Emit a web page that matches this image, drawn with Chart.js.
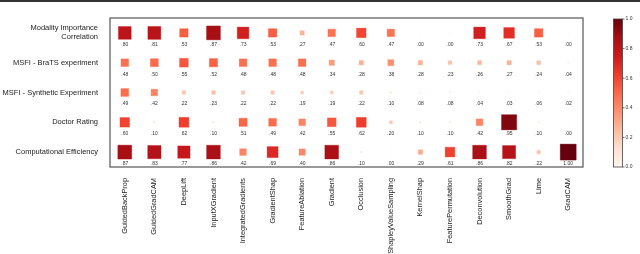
<!DOCTYPE html>
<html>
<head>
<meta charset="utf-8">
<script src="https://cdn.jsdelivr.net/npm/chart.js@4/dist/chart.umd.min.js"></script>
<style>
  html, body { margin: 0; padding: 0; background: #fff; }
  #wrap { position: relative; width: 640px; height: 254px; }
</style>
</head>
<body>
<div id="wrap"><canvas id="c" width="640" height="254"></canvas></div>
<script>
// ---- data ----
const methods = ["GuidedBackProp","GuidedGradCAM","DeepLift","InputXGradient","IntegratedGradients","GradientShap","FeatureAblation","Gradient","Occlusion","ShapleyValueSampling","KernelShap","FeaturePermutation","Deconvolution","SmoothGrad","Lime","GradCAM"];
const metrics = [["Modality Importance","Correlation"],"MSFI - BraTS experiment","MSFI - Synthetic Experiment","Doctor Rating","Computational Efficiency"];
const modalityImportance = [0.80,0.81,0.53,0.87,0.73,0.53,0.27,0.47,0.60,0.47,0.00,0.00,0.73,0.67,0.53,0.00];
const msfiBrats          = [0.48,0.50,0.55,0.52,0.48,0.48,0.48,0.34,0.28,0.38,0.28,0.23,0.26,0.27,0.24,0.04];
const msfiSynthetic      = [0.49,0.42,0.22,0.23,0.22,0.22,0.19,0.19,0.22,0.10,0.08,0.08,0.04,0.03,0.06,0.02];
const doctorRating       = [0.60,0.10,0.62,0.10,0.51,0.49,0.42,0.55,0.62,0.20,0.10,0.10,0.42,0.95,0.10,0.00];
const compEfficiency     = [0.87,0.83,0.77,0.86,0.42,0.69,0.40,0.86,0.10,0.00,0.29,0.61,0.86,0.82,0.22,1.00];
const colorbarTicks = [0.0,0.2,0.4,0.6,0.8,1.0];

const rows = [modalityImportance, msfiBrats, msfiSynthetic, doctorRating, compEfficiency];

// ---- matplotlib "Reds" colormap ----
const redsStops = ["#fff5f0","#fee0d2","#fcbba1","#fc9272","#fb6a4a","#ef3b2c","#cb181d","#a50f15","#67000d"];
function hex2rgb(h){return [parseInt(h.slice(1,3),16),parseInt(h.slice(3,5),16),parseInt(h.slice(5,7),16)];}
function reds(t, a){
  t = Math.max(0, Math.min(1, t));
  const n = redsStops.length - 1;
  const p = t * n, i = Math.min(Math.floor(p), n - 1), f = p - i;
  const c0 = hex2rgb(redsStops[i]), c1 = hex2rgb(redsStops[i+1]);
  const c = c0.map((v,k)=>Math.round(v + (c1[k]-v)*f));
  return a === undefined ? `rgb(${c[0]},${c[1]},${c[2]})` : `rgba(${c[0]},${c[1]},${c[2]},${a})`;
}

const points = [];
rows.forEach((arr, r) => arr.forEach((v, c) => points.push({x: c, y: r, v: v})));

const MAXSIDE = 16;
const FONT = "'Liberation Sans', Arial, sans-serif";
function fmt(v){ return v >= 1 ? v.toFixed(2) : v.toFixed(2).replace(/^0/, ""); }

const decor = {
  id: "decor",
  beforeDraw(chart){
    const ctx = chart.ctx;
    ctx.save();
    ctx.fillStyle = "#333";
    ctx.fillRect(0, 0, chart.width, 2);
    ctx.restore();
  },
  afterDatasetsDraw(chart){
    const ctx = chart.ctx, xs = chart.scales.x, ys = chart.scales.y;
    ctx.save();
    ctx.font = "5px " + FONT;
    ctx.fillStyle = "#333";
    ctx.textAlign = "center";
    ctx.textBaseline = "middle";
    points.forEach(p => {
      ctx.fillText(fmt(p.v), xs.getPixelForValue(p.x), ys.getPixelForValue(p.y) + 11.5);
    });
    ctx.restore();
  },
  afterDraw(chart){
    const ctx = chart.ctx, a = chart.chartArea;
    ctx.save();
    ctx.strokeStyle = "#555";
    ctx.lineWidth = 1.2;
    ctx.strokeRect(a.left, a.top, a.right - a.left, a.bottom - a.top);
    const x0 = a.right + 30.5, w = 9, top = a.top + 1, bot = a.bottom;
    const g = ctx.createLinearGradient(0, bot, 0, top);
    redsStops.forEach((c, i) => g.addColorStop(i / (redsStops.length - 1), c));
    ctx.fillStyle = g;
    ctx.fillRect(x0, top, w, bot - top);
    ctx.strokeStyle = "#444";
    ctx.lineWidth = 0.8;
    ctx.strokeRect(x0, top, w, bot - top);
    ctx.font = "5px " + FONT;
    ctx.fillStyle = "#333";
    ctx.textAlign = "left";
    ctx.textBaseline = "middle";
    colorbarTicks.forEach(t => {
      const y = bot - t * (bot - top);
      ctx.beginPath();
      ctx.moveTo(x0 + w, y); ctx.lineTo(x0 + w + 2, y);
      ctx.stroke();
      ctx.fillText(t.toFixed(1), x0 + w + 3, y);
    });
    ctx.restore();
  }
};

new Chart(document.getElementById("c"), {
  type: "scatter",
  data: {
    datasets: [{
      data: points,
      pointStyle: "rect",
      pointRadius: ctx => Math.max(MAXSIDE * ctx.raw.v, 1.2) / Math.SQRT2,
      pointBackgroundColor: ctx => reds(ctx.raw.v),
      pointBorderColor: ctx => reds(ctx.raw.v, 0.35),
      pointBorderWidth: 1
    }]
  },
  plugins: [decor],
  options: {
    responsive: false,
    animation: false,
    events: [],
    layout: { padding: { top: 18, right: 57, left: 0, bottom: 0 } },
    plugins: { legend: { display: false }, tooltip: { enabled: false } },
    scales: {
      x: {
        type: "linear", min: -0.5, max: 15.5,
        afterBuildTicks: s => { s.ticks = methods.map((_, i) => ({ value: i })); },
        afterFit: s => { s.height = 87; },
        grid: { display: false }, border: { display: false },
        ticks: {
          autoSkip: false, minRotation: 90, maxRotation: 90, padding: 3,
          color: "#222", font: { family: FONT, size: 7.4 },
          callback: v => methods[v]
        }
      },
      y: {
        type: "linear", min: -0.5, max: 4.5, reverse: true,
        afterBuildTicks: s => { s.ticks = metrics.map((_, i) => ({ value: i })); },
        afterFit: s => { s.width = 110; },
        grid: { display: false }, border: { display: false },
        ticks: {
          autoSkip: false, padding: 4,
          color: "#222", font: { family: FONT, size: 7.5, lineHeight: 1.2 },
          callback: v => metrics[v]
        }
      }
    }
  }
});
</script>
</body>
</html>
